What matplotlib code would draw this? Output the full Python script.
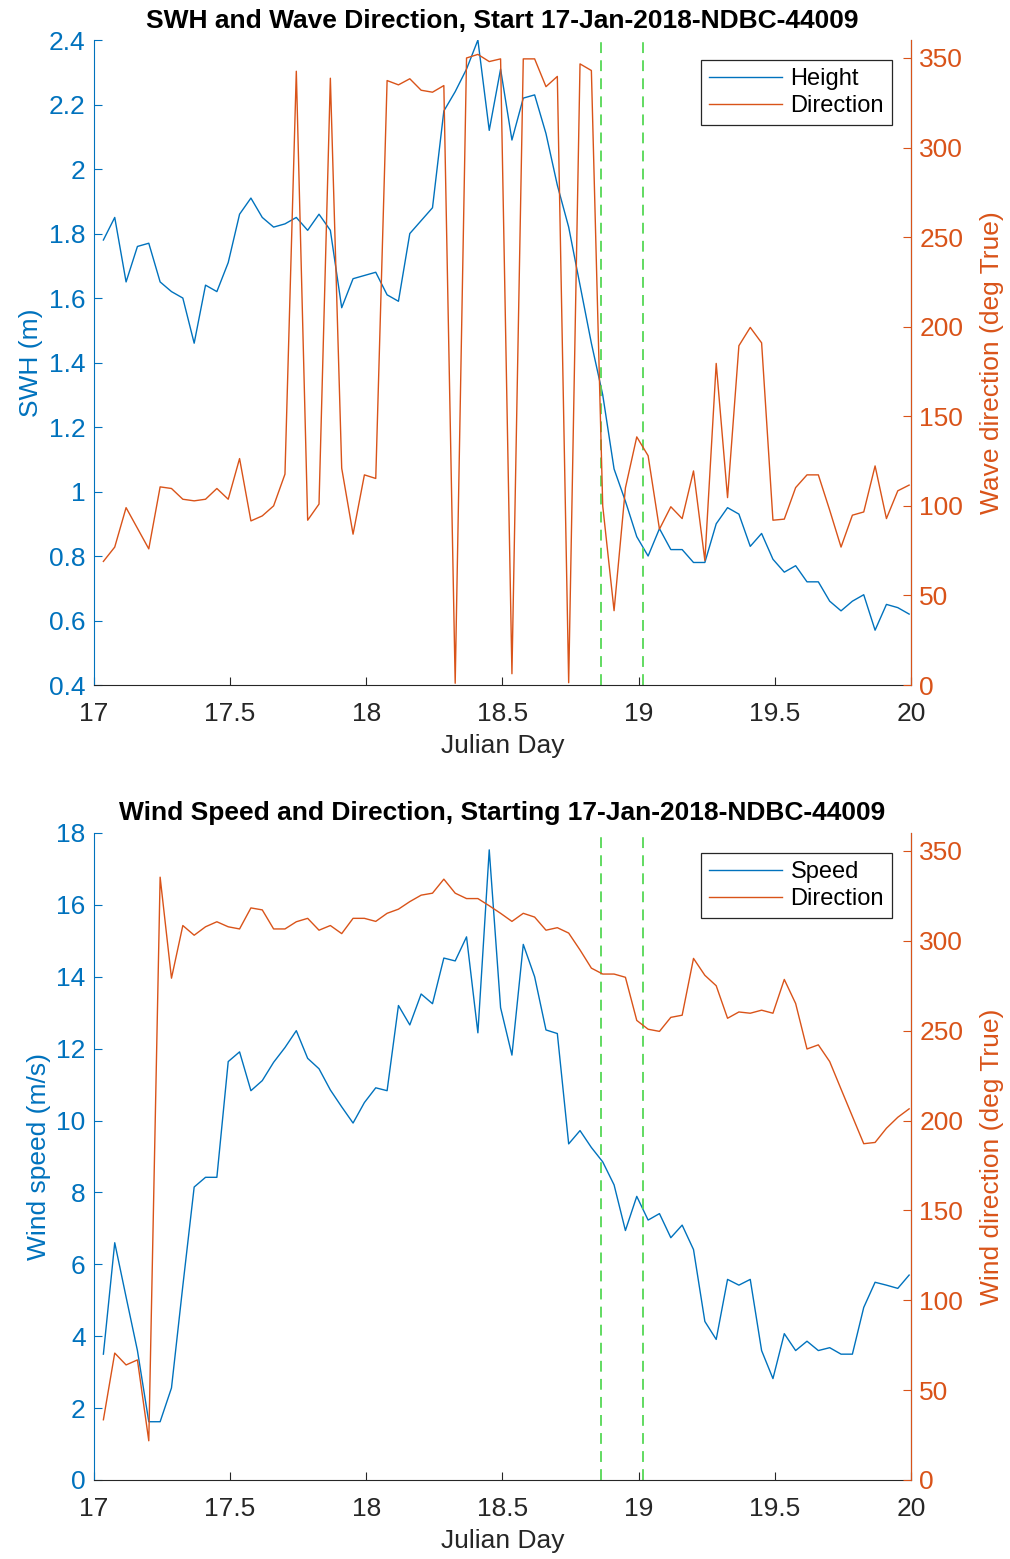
import numpy as np
import matplotlib
matplotlib.use('Agg')
import matplotlib.pyplot as plt
from matplotlib.ticker import FuncFormatter

plt.rcParams['font.family'] = ['Liberation Sans', 'DejaVu Sans']

# hourly NDBC observations (HH:50), Julian day
julian_day = 17 + (np.arange(72) + 50 / 60) / 24

swh = [1.78, 1.85, 1.65, 1.76, 1.77, 1.65, 1.62, 1.60, 1.46, 1.64, 1.62, 1.71,
       1.86, 1.91, 1.85, 1.82, 1.83, 1.85, 1.81, 1.86, 1.81, 1.57, 1.66, 1.67,
       1.68, 1.61, 1.59, 1.80, 1.84, 1.88, 2.18, 2.24, 2.31, 2.40, 2.12, 2.31,
       2.09, 2.22, 2.23, 2.11, 1.95, 1.82, 1.64, 1.46, 1.30, 1.07, 0.97, 0.86,
       0.80, 0.885, 0.82, 0.82, 0.78, 0.78, 0.90, 0.95, 0.93, 0.83, 0.87, 0.79,
       0.75, 0.77, 0.72, 0.72, 0.66, 0.63, 0.66, 0.68, 0.57, 0.65, 0.64, 0.62]

wave_dir = [69, 77, 99, 87.5, 76, 110.6, 109.7, 103.7, 102.8, 103.7, 109.7, 103.7,
            126.4, 91.6, 94.4, 100, 117.7, 342.6, 92, 101, 338.7, 121, 84.2, 117.3,
            115.3, 337.4, 335, 338.4, 332, 330.9, 334.6, 1, 350, 352, 348, 349.5,
            6.3, 349.5, 349.5, 334, 339.7, 1.3, 346.7, 343, 100, 41.5, 110, 138.5,
            128, 87, 99.5, 92.9, 119.5, 69.5, 179.5, 104.6, 189.4, 199.6, 191, 92,
            92.6, 110.2, 117.3, 117.3, 97.6, 77, 94.8, 96.6, 122.3, 92.9, 108.4, 111.6]

wind_spd = [3.5, 6.6, 5.09, 3.6, 1.62, 1.62, 2.56, 5.4, 8.15, 8.42, 8.42, 11.64,
            11.91, 10.83, 11.11, 11.62, 12.03, 12.5, 11.73, 11.44, 10.85, 10.38, 9.93, 10.5,
            10.91, 10.83, 13.2, 12.66, 13.52, 13.25, 14.52, 14.44, 15.11, 12.44, 17.53, 13.14,
            11.82, 14.9, 14.0, 12.52, 12.42, 9.35, 9.72, 9.25, 8.85, 8.21, 6.94, 7.89,
            7.23, 7.41, 6.74, 7.09, 6.41, 4.41, 3.91, 5.58, 5.42, 5.58, 3.6, 2.82,
            4.07, 3.6, 3.86, 3.6, 3.68, 3.5, 3.5, 4.8, 5.5, 5.42, 5.33, 5.7]

wind_dir = [33.5, 70.6, 64, 66.8, 21.8, 335.4, 279.2, 308.5, 303.1, 307.8, 310.6, 307.8,
            306.6, 318.3, 317.2, 306.6, 306.6, 310.6, 312.5, 305.9, 308.5, 304, 312.5, 312.5,
            310.8, 315.3, 317.6, 321.8, 325.4, 326.5, 334.3, 326.5, 323.5, 323.5, 319.5, 315.3,
            310.8, 315.3, 313.2, 305.9, 307.3, 304.3, 294.9, 284.8, 281.5, 281.5, 279.7, 255.7,
            250.8, 249.6, 257.4, 258.6, 290.2, 280.8, 275, 256.9, 260.4, 259.7, 261.4, 259.7,
            278.5, 265.1, 239.8, 242.1, 232.8, 217.5, 202.3, 187.1, 187.8, 195.7, 201.8, 206.5]

event_days = [18.86, 19.015]

blue = '#0072BD'
orange = '#D95319'
green = '#55D855'
dark = '#262626'
fs = 19

fig = plt.figure(figsize=(10.10, 15.59), dpi=100)


def g_fmt(v, pos):
    return '%g' % round(v, 4)


def make_panel(rect, y1, y2, lab1, lab2, ylab1, ylab2, title, ylim1, yticks1):
    ax = fig.add_axes(rect)
    ax2 = ax.twinx()
    l1, = ax.plot(julian_day, y1, color=blue, lw=1.0, label=lab1)
    l2, = ax2.plot(julian_day, y2, color=orange, lw=1.0, label=lab2)
    for d in event_days:
        ax.axvline(d, color=green, lw=1.3, ls=(0, (6, 4)))
    ax.set_xlim(17, 20)
    ax.set_xticks([17, 17.5, 18, 18.5, 19, 19.5, 20])
    ax.xaxis.set_major_formatter(FuncFormatter(g_fmt))
    ax.set_ylim(*ylim1)
    ax.set_yticks(yticks1)
    ax.yaxis.set_major_formatter(FuncFormatter(g_fmt))
    ax2.set_ylim(0, 360)
    ax2.set_yticks(range(0, 351, 50))

    ax.spines['top'].set_visible(False)
    ax2.spines['top'].set_visible(False)
    ax.spines['left'].set_color(blue)
    ax2.spines['left'].set_visible(False)
    ax2.spines['right'].set_color(orange)
    ax.spines['bottom'].set_color(dark)
    ax2.spines['bottom'].set_visible(False)
    ax.tick_params(axis='x', direction='in', colors=dark, labelsize=fs, length=6, pad=12)
    ax.tick_params(axis='y', direction='in', colors=blue, labelsize=fs, length=6, pad=6)
    ax2.tick_params(axis='y', direction='in', colors=orange, labelsize=fs, length=6, pad=6)

    ax.set_xlabel('Julian Day', fontsize=fs, color=dark, labelpad=6)
    ax.set_ylabel(ylab1, fontsize=fs, color=blue, labelpad=4)
    ax2.set_ylabel(ylab2, fontsize=fs, color=orange, labelpad=12)
    ax.set_title(title, fontsize=fs, fontweight='bold', color='black', pad=9)

    leg = ax2.legend([l1, l2], [lab1, lab2], loc='upper right',
                     bbox_to_anchor=(0.977, 0.969), borderaxespad=0,
                     fontsize=17, fancybox=False, edgecolor=dark, framealpha=1,
                     handlelength=3.1, handletextpad=0.35, borderpad=0.35,
                     labelspacing=0.2)
    leg.get_frame().set_linewidth(0.9)
    return ax, ax2


make_panel([0.093, 0.5606, 0.809, 0.4137], swh, wave_dir, 'Height', 'Direction',
           'SWH (m)', 'Wave direction (deg True)',
           'SWH and Wave Direction, Start 17-Jan-2018-NDBC-44009',
           (0.4, 2.4), np.arange(0.4, 2.41, 0.2))

make_panel([0.093, 0.0507, 0.809, 0.415], wind_spd, wind_dir, 'Speed', 'Direction',
           'Wind speed (m/s)', 'Wind direction (deg True)',
           'Wind Speed and Direction, Starting 17-Jan-2018-NDBC-44009',
           (0, 18), range(0, 19, 2))

fig.savefig('out.png', dpi=100)
